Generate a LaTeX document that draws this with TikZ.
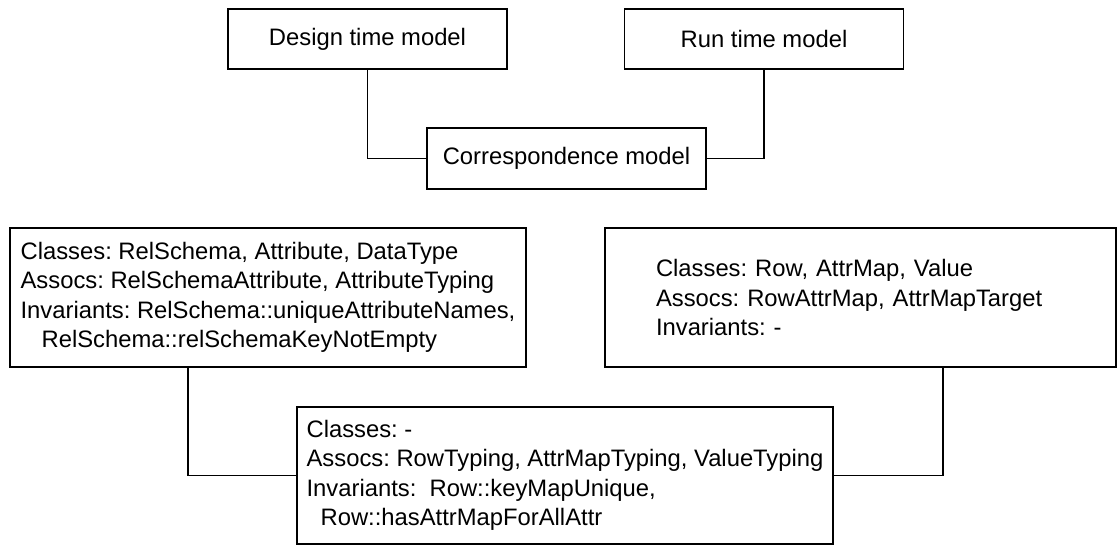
\documentclass[tikz,border=0pt]{standalone}
\usepackage{fontspec}
\setmainfont{Liberation Sans}
\frenchspacing
\usetikzlibrary{positioning}
\tikzset{
  every picture/.style={line width=1pt},
  model/.style={draw, rectangle, align=center, inner sep=0pt, minimum width=209.25pt, minimum height=45pt, font=\fontsize{17.85pt}{22.1pt}\selectfont},
  detail/.style={draw, rectangle, align=left, inner sep=0pt, minimum height=104.25pt, font=\fontsize{17.85pt}{22.1pt}\selectfont},
  link/.style={draw, line width=1pt},
}

\begin{document}
\begin{tikzpicture}[x=0.75pt, y=-0.75pt]
  \useasboundingbox (0,0) rectangle (1119,546);
  \node[model] (design) at (367.5, 39) {Design time model};
  \node[model] (run) at (764, 39) {Run time model};
  \node[model, minimum height=45.75pt] (corr) at (566.5, 158.5) {Correspondence model};
  \node[detail, minimum width=387pt] (relschema) at (268, 297.5) {Classes: RelSchema, Attribute, DataType\\Assocs: RelSchemaAttribute, AttributeTyping\\Invariants: RelSchema::uniqueAttributeNames,\\\hspace*{15.75pt}RelSchema::relSchemaKeyNotEmpty};
  \node[detail, text width=306.75pt, inner xsep=38.25pt] (rowmodel) at (860.5, 297.5) {Classes: Row, AttrMap, Value\\Assocs: RowAttrMap, AttrMapTarget\\Invariants: -};
  \node[detail, minimum width=402pt, minimum height=102.75pt] (typing) at (565, 475.5) {Classes: -\\Assocs: RowTyping, AttrMapTyping, ValueTyping\\Invariants:\ \ Row::keyMapUnique,\\\hspace*{10.5pt}Row::hasAttrMapForAllAttr};
  \draw[link] (design.south) |- (corr.west);
  \draw[link] (run.south) |- (corr.east);
  \draw[link] ([xshift=-60pt]relschema.south) |- (typing.west);
  \draw[link] ([xshift=61.9pt]rowmodel.south) |- (typing.east);
\end{tikzpicture}
\end{document}
